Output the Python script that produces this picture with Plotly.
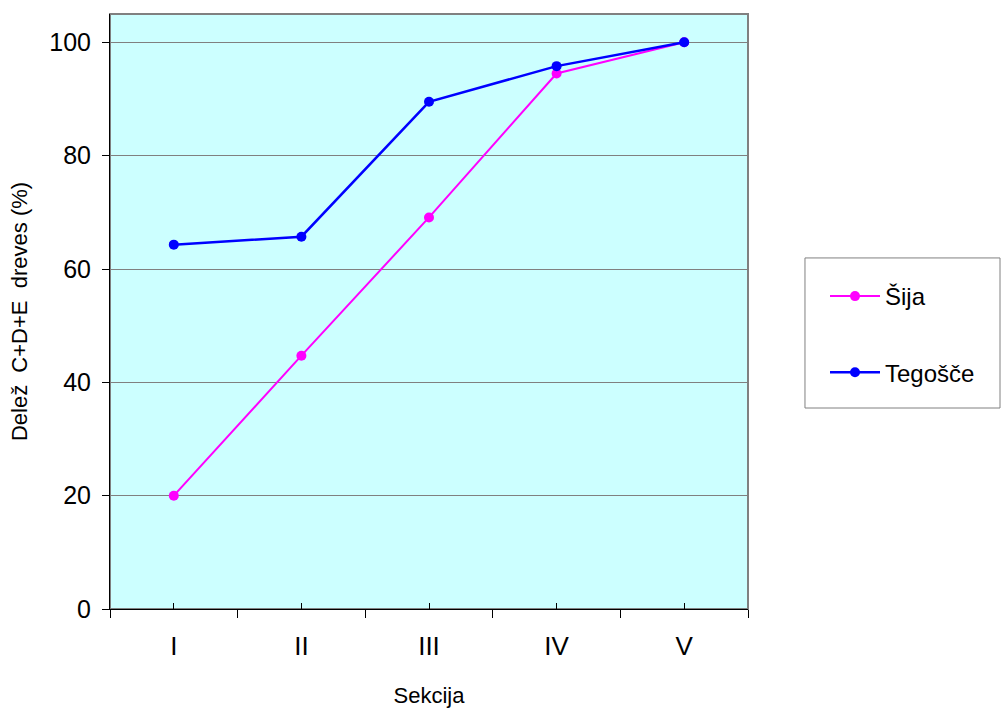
import plotly.graph_objects as go

# Sections along the sampled transect
sections = ["I", "II", "III", "IV", "V"]

# Share of C+D+E trees (%) per section
sija = [20.0, 44.7, 69.1, 94.5, 100.0]
tegosce = [64.3, 65.7, 89.5, 95.8, 100.0]

y_ticks = [0, 20, 40, 60, 80, 100]

font_family = "Liberation Sans, Arial, sans-serif"

fig = go.Figure()

fig.add_trace(go.Scatter(
    x=sections, y=sija, name="Šija", mode="lines+markers",
    legendgroup="sija",
    line=dict(color="#FF00FF", width=2),
    marker=dict(color="#FF00FF", size=10),
))
fig.add_trace(go.Scatter(
    x=sections, y=tegosce, name="Tegošče", mode="lines+markers",
    legendgroup="tegosce",
    line=dict(color="#0000FF", width=2.5),
    marker=dict(color="#0000FF", size=10),
))

fig.update_layout(
    width=1002, height=708,
    margin=dict(l=110, r=254, t=14, b=99, autoexpand=False),
    paper_bgcolor="white",
    plot_bgcolor="#CCFFFF",
    font=dict(family=font_family, color="black"),
    showlegend=True,
    legend=dict(
        x=1.1207, y=0.563, xanchor="left", yanchor="top",
        borderwidth=0, bgcolor="rgba(0,0,0,0)",
        font=dict(size=24, family=font_family),
        tracegroupgap=42, itemwidth=50,
    ),
    xaxis=dict(
        type="category", range=[-0.5, 4.5], automargin=False,
        tickson="boundaries", ticks="outside", ticklen=8,
        tickcolor="black", tickwidth=1,
        showline=True, linecolor="black", linewidth=1,
        mirror=False, showgrid=False, zeroline=False,
        tickfont=dict(size=26),
        ticklabelstandoff=14,
        title=dict(text="Sekcija", font=dict(size=22), standoff=32),
    ),
    xaxis2=dict(
        overlaying="x", anchor="y", side="bottom",
        range=[-0.5, 4.5], tickvals=[0, 1, 2, 3, 4], automargin=False,
        ticks="inside", ticklen=6, tickcolor="black", tickwidth=1,
        showticklabels=False, showgrid=False, zeroline=False,
        showline=False,
    ),
    yaxis=dict(
        range=[0, 105], tickvals=y_ticks, automargin=False,
        ticks="outside", ticklen=7, tickcolor="black", tickwidth=1,
        showline=True, linecolor="black", linewidth=1,
        showgrid=True, gridcolor="#808080", gridwidth=1,
        zeroline=False,
        tickfont=dict(size=25),
        ticklabelstandoff=6,
        title=dict(text="Delež  C+D+E  dreves (%)", font=dict(size=22), standoff=15),
    ),
)

# Invisible carrier so the overlay axis with the inner ticks is drawn
fig.add_trace(go.Scatter(x=[0], y=[0], xaxis="x2", yaxis="y",
                         mode="markers", marker=dict(opacity=0),
                         showlegend=False, hoverinfo="skip"))

# Grey frame around the plotting area
fig.add_shape(type="rect", xref="paper", yref="paper",
              x0=0, y0=0, x1=1, y1=1,
              line=dict(color="#808080", width=2), layer="below")

# Frame around the legend
fig.add_shape(type="rect", xref="paper", yref="paper",
              x0=1.0893, y0=0.3378, x1=1.395, y1=0.590,
              line=dict(color="#808080", width=1), fillcolor="white",
              layer="below")

fig.write_html("out.html")
